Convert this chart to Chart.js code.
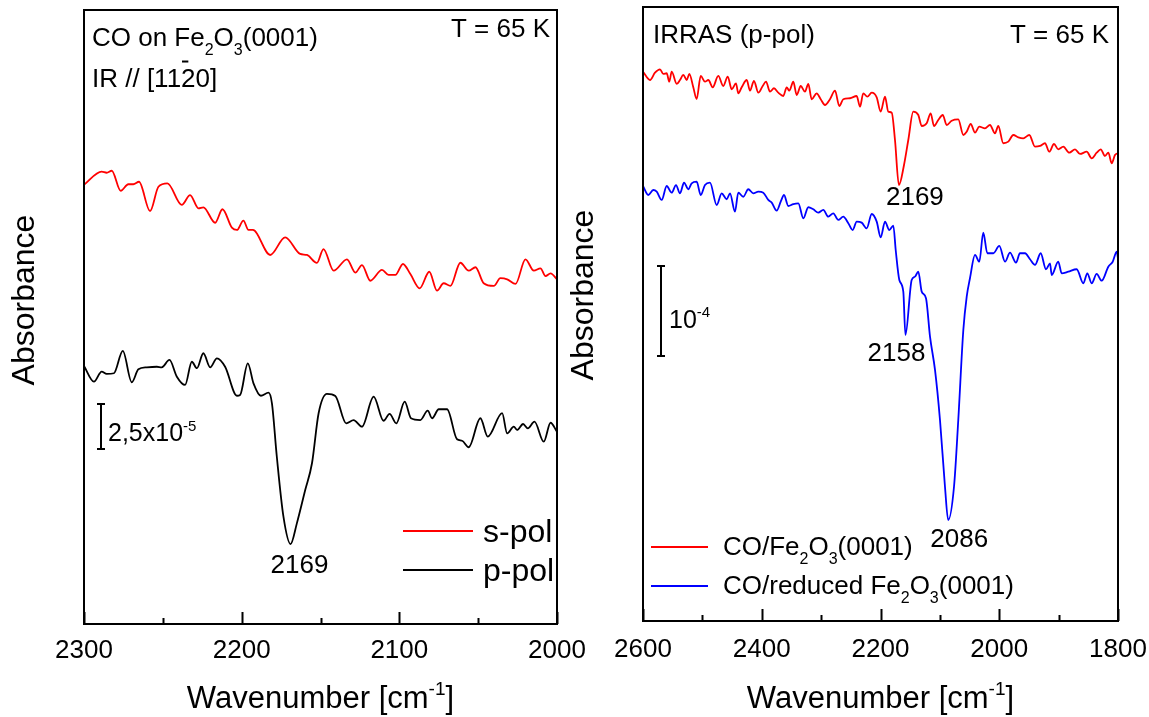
<!DOCTYPE html>
<html>
<head>
<meta charset="utf-8">
<script src="https://cdn.jsdelivr.net/npm/chart.js@4.4.1/dist/chart.umd.min.js"></script>
<style>
  html, body { margin: 0; padding: 0; background: #fff; }
  #wrap { position: relative; width: 1149px; height: 717px; }
  #wrap canvas { position: absolute; left: 0; top: 0; }
</style>
</head>
<body>
<div id="wrap">
  <canvas id="leftPanel" width="1149" height="717"></canvas>
  <canvas id="rightPanel" width="1149" height="717"></canvas>
</div>
<script>
const FONT = '"Liberation Sans", Arial, Helvetica, sans-serif';

// ---- Left panel: CO on Fe2O3(0001), T = 65 K ----
// points are [wavenumber (cm^-1), absorbance in units of 1e-5, offset for display]
const leftSPol = [
  [2300.0, 24.40], [2288.8, 25.13], [2285.6, 25.07], [2282.4, 25.18], [2276.7, 24.06],
  [2271.9, 24.43], [2268.7, 24.43], [2265.1, 24.57], [2258.1, 22.94], [2252.8, 24.29],
  [2247.1, 24.48], [2238.0, 23.28], [2232.7, 23.83], [2227.4, 23.09], [2224.3, 23.15],
  [2216.8, 22.29], [2212.2, 23.04], [2206.2, 22.02], [2203.0, 21.89], [2198.9, 22.41],
  [2195.7, 21.89], [2192.9, 21.89], [2181.9, 20.50], [2172.4, 21.48], [2162.9, 20.56],
  [2158.6, 20.50], [2152.3, 20.06], [2148.1, 20.83], [2141.7, 19.63], [2133.2, 20.26],
  [2127.9, 19.52], [2123.7, 19.94], [2118.4, 19.07], [2111.0, 19.67], [2106.8, 19.39],
  [2102.5, 19.39], [2097.7, 20.00], [2093.0, 19.44], [2087.1, 18.65], [2081.0, 19.57],
  [2076.1, 18.52], [2071.9, 18.93], [2067.6, 18.78], [2061.3, 20.07], [2056.0, 19.63],
  [2051.7, 19.82], [2046.5, 18.93], [2040.1, 18.78], [2035.9, 19.21], [2031.6, 19.15],
  [2026.3, 18.89], [2020.0, 20.26], [2014.7, 19.63], [2010.5, 19.76], [2007.3, 19.33],
  [2004.1, 19.48], [2000.0, 19.15]
];
const leftPPol = [
  [2300.0, 14.33], [2293.7, 13.46], [2288.8, 14.02], [2285.6, 13.89], [2281.0, 13.93],
  [2275.4, 15.17], [2269.7, 13.43], [2265.5, 14.15], [2260.2, 14.26], [2253.8, 14.29],
  [2250.7, 14.26], [2245.8, 14.67], [2241.1, 13.74], [2235.9, 13.28], [2231.6, 14.57],
  [2228.4, 14.21], [2224.3, 15.04], [2220.0, 14.26], [2215.7, 14.76], [2210.5, 14.29],
  [2203.0, 12.68], [2201.0, 12.72], [2196.1, 14.48], [2192.5, 13.37], [2187.8, 12.68],
  [2183.0, 12.85], [2180.8, 12.26], [2177.7, 9.29], [2173.5, 5.96], [2169.0, 4.44],
  [2165.0, 5.59], [2159.7, 7.44], [2155.4, 8.93], [2151.2, 11.71], [2145.9, 12.78],
  [2140.6, 12.67], [2133.7, 11.15], [2129.0, 11.33], [2123.7, 10.96], [2116.3, 12.63],
  [2110.0, 11.29], [2106.2, 11.67], [2101.9, 11.15], [2096.6, 12.35], [2092.6, 11.43],
  [2086.7, 11.33], [2082.0, 11.85], [2079.2, 11.43], [2075.0, 11.93], [2069.7, 11.93],
  [2063.4, 10.26], [2060.2, 10.18], [2056.0, 9.82], [2048.6, 11.43], [2043.9, 10.41],
  [2034.8, 11.71], [2031.6, 10.59], [2027.4, 10.96], [2025.3, 10.78], [2021.5, 11.11],
  [2018.5, 10.87], [2014.3, 11.24], [2008.4, 10.13], [2004.1, 11.18], [2000.0, 10.68]
];
const leftTicks = [2300, 2200, 2100, 2000];
const leftMinorTicks = [2250, 2150, 2050];
const leftPeak = 2169;

// ---- Right panel: IRRAS (p-pol), T = 65 K ----
const rightFe2O3 = [
  [2600.0, 61.03], [2588.2, 60.11], [2579.8, 60.92], [2571.4, 61.30], [2565.8, 60.78],
  [2560.1, 60.86], [2555.7, 59.92], [2551.7, 61.03], [2543.2, 59.67], [2537.7, 60.11],
  [2532.1, 60.67], [2526.4, 60.11], [2522.0, 60.78], [2515.3, 59.30], [2509.6, 58.00],
  [2502.8, 60.56], [2495.6, 59.92], [2490.0, 60.11], [2482.6, 59.30], [2473.2, 60.56],
  [2464.8, 59.44], [2457.3, 60.48], [2450.6, 59.08], [2443.4, 59.74], [2439.5, 58.63],
  [2433.8, 59.30], [2425.3, 60.11], [2419.8, 58.92], [2413.1, 60.00], [2405.8, 58.70],
  [2398.4, 59.44], [2392.8, 59.92], [2386.1, 58.81], [2379.4, 59.19], [2372.1, 58.70],
  [2363.7, 58.33], [2358.0, 59.30], [2353.6, 58.92], [2346.9, 59.92], [2341.1, 58.44],
  [2334.4, 59.44], [2327.2, 58.81], [2321.6, 59.67], [2315.9, 57.97], [2307.5, 58.63],
  [2300.7, 57.97], [2293.5, 57.33], [2285.1, 57.97], [2276.6, 58.92], [2269.4, 57.22],
  [2262.7, 57.97], [2251.4, 58.08], [2240.1, 58.33], [2234.5, 57.14], [2229.0, 58.63],
  [2222.2, 58.26], [2214.8, 58.70], [2206.4, 58.19], [2199.7, 56.59], [2192.4, 58.26],
  [2186.9, 56.59], [2181.1, 56.48], [2175.6, 53.44], [2169.0, 48.44], [2160.4, 50.67],
  [2153.2, 53.44], [2144.8, 56.59], [2136.3, 56.22], [2130.6, 55.00], [2122.2, 55.30],
  [2115.5, 56.41], [2109.9, 55.00], [2102.7, 55.67], [2095.2, 56.22], [2088.5, 55.11],
  [2080.1, 55.59], [2069.0, 55.74], [2060.5, 54.00], [2054.8, 54.37], [2048.1, 55.22],
  [2040.8, 54.26], [2033.6, 54.92], [2024.0, 54.74], [2015.6, 55.11], [2007.2, 54.19],
  [2001.6, 55.00], [1993.2, 53.08], [1984.8, 53.26], [1976.3, 54.00], [1967.9, 53.74],
  [1959.5, 53.63], [1949.4, 54.00], [1939.8, 52.70], [1931.4, 52.78], [1923.0, 53.08],
  [1915.7, 52.14], [1907.8, 53.00], [1900.6, 52.41], [1892.2, 52.70], [1882.0, 52.03],
  [1872.4, 52.41], [1864.0, 51.89], [1852.7, 52.14], [1844.3, 51.41], [1835.9, 52.03],
  [1829.1, 52.41], [1821.9, 51.67], [1816.3, 52.03], [1810.6, 50.86], [1805.1, 51.78],
  [1800.0, 51.97]
];
const rightReduced = [
  [2600.0, 48.33], [2591.1, 47.33], [2582.7, 47.89], [2576.9, 47.70], [2568.5, 46.78],
  [2560.1, 48.33], [2551.7, 47.59], [2544.4, 48.44], [2537.7, 47.52], [2530.9, 48.70],
  [2523.7, 47.97], [2518.0, 48.63], [2509.6, 48.81], [2502.8, 47.33], [2495.6, 48.44],
  [2487.2, 48.70], [2475.9, 46.22], [2467.5, 47.52], [2459.0, 46.86], [2453.5, 47.52],
  [2445.1, 45.48], [2439.5, 47.59], [2431.1, 47.14], [2422.7, 47.97], [2414.2, 47.52],
  [2405.8, 47.70], [2397.4, 47.59], [2389.0, 46.78], [2383.2, 46.48], [2374.8, 45.59],
  [2368.1, 46.59], [2362.5, 47.33], [2355.3, 46.11], [2346.9, 46.33], [2338.4, 46.41],
  [2330.0, 44.74], [2321.6, 45.97], [2313.2, 45.74], [2304.8, 45.37], [2296.3, 45.67],
  [2287.9, 44.92], [2279.5, 45.30], [2271.1, 44.56], [2262.7, 44.92], [2254.2, 44.19],
  [2246.8, 43.44], [2240.1, 44.37], [2231.7, 44.26], [2223.2, 43.63], [2214.8, 45.22],
  [2206.4, 44.37], [2199.7, 42.63], [2192.4, 44.37], [2185.2, 43.44], [2178.4, 43.94],
  [2174.4, 41.22], [2168.3, 37.89], [2161.6, 36.59], [2158.0, 31.78], [2147.5, 37.89],
  [2141.9, 38.26], [2136.3, 38.81], [2130.6, 36.59], [2123.4, 35.86], [2116.6, 31.59],
  [2108.2, 27.89], [2099.8, 22.33], [2091.4, 14.92], [2086.0, 11.22], [2076.2, 14.92],
  [2069.0, 22.33], [2060.5, 32.33], [2054.8, 36.03], [2049.3, 38.08], [2040.8, 40.67],
  [2033.6, 39.92], [2026.9, 43.14], [2020.1, 40.86], [2010.0, 40.86], [1999.9, 41.67],
  [1990.3, 39.92], [1981.9, 40.92], [1971.8, 39.81], [1965.1, 40.86], [1956.6, 40.86],
  [1948.2, 40.19], [1939.8, 39.56], [1930.2, 40.86], [1921.3, 39.08], [1914.5, 39.74],
  [1911.7, 38.44], [1900.6, 39.92], [1894.8, 38.63], [1883.7, 38.81], [1869.6, 39.08],
  [1858.4, 37.52], [1851.7, 38.63], [1844.3, 37.52], [1835.9, 38.56], [1827.5, 37.81],
  [1816.3, 39.37], [1808.9, 39.92], [1802.2, 41.03], [1800.0, 40.30]
];
const rightTicks = [2600, 2400, 2200, 2000, 1800];
const rightMinorTicks = [2500, 2300, 2100, 1900];
const rightPeaksFe2O3 = [2169];
const rightPeaksReduced = [2158, 2086];

// ---- text helpers ----
// segments: [text, kind], kind is '' (normal), 'sub', 'sup' or 'bar' (overlined)
function segFont(kind, size) {
  const s = (kind === 'sub' || kind === 'sup') ? Math.round(size * 0.6) : size;
  return s + 'px ' + FONT;
}
function richWidth(ctx, segs, size) {
  let w = 0;
  for (const [t, k] of segs) { ctx.font = segFont(k, size); w += ctx.measureText(t).width; }
  return w;
}
function drawRich(ctx, segs, x, y, size, align) {
  const w = richWidth(ctx, segs, size);
  let cx = align === 'center' ? x - w / 2 : align === 'right' ? x - w : x;
  ctx.textAlign = 'left';
  ctx.textBaseline = 'alphabetic';
  for (const [t, k] of segs) {
    ctx.font = segFont(k, size);
    const dy = k === 'sub' ? size * 0.33 : k === 'sup' ? -size * 0.42 : 0;
    ctx.fillText(t, cx, y + dy);
    const tw = ctx.measureText(t).width;
    if (k === 'bar') {
      ctx.save();
      ctx.lineWidth = 2;
      ctx.beginPath();
      ctx.moveTo(cx + tw * 0.06, y - size * 0.98);
      ctx.lineTo(cx + tw * 0.5, y - size * 0.98);
      ctx.stroke();
      ctx.restore();
    }
    cx += tw;
  }
}

// frame, inward ticks, labels, legend and scale bar for one panel
const panelDecor = {
  id: 'panelDecor',
  afterDraw(chart, args, opts) {
    const ctx = chart.ctx;
    const a = chart.chartArea;
    const xs = chart.scales.x, ys = chart.scales.y;
    ctx.save();
    ctx.fillStyle = '#000';
    ctx.strokeStyle = '#000';

    // frame
    ctx.lineWidth = 2;
    ctx.strokeRect(a.left, a.top, a.right - a.left, a.bottom - a.top);

    // ticks pointing into the plot
    ctx.beginPath();
    for (const v of opts.major) {
      const px = Math.round(xs.getPixelForValue(v)) + 0.5;
      ctx.moveTo(px, a.bottom); ctx.lineTo(px, a.bottom - 12);
    }
    for (const v of opts.minor) {
      const px = Math.round(xs.getPixelForValue(v)) + 0.5;
      ctx.moveTo(px, a.bottom); ctx.lineTo(px, a.bottom - 6);
    }
    ctx.stroke();

    // corner texts
    for (const t of opts.texts) drawRich(ctx, t.segs, t.x, t.y, t.size, t.align);

    // x-axis title
    drawRich(ctx, [['Wavenumber [cm', ''], ['-1', 'sup'], [']', '']],
             (a.left + a.right) / 2, 708, 31, 'center');

    // y-axis title
    ctx.save();
    ctx.translate(opts.yTitleX, opts.yTitleY);
    ctx.rotate(-Math.PI / 2);
    ctx.font = '32px ' + FONT;
    ctx.textAlign = 'center';
    ctx.textBaseline = 'middle';
    ctx.fillText('Absorbance', 0, 0);
    ctx.restore();

    // peak positions, placed from the data minimum of the stated wavenumber
    for (const p of opts.peaks) {
      const pt = p.series.find(d => d[0] === p.wn);
      const px = xs.getPixelForValue(pt[0]);
      const py = ys.getPixelForValue(pt[1]);
      drawRich(ctx, [[String(p.wn), '']], px + p.dx, py + p.dy, 26, 'center');
    }

    // scale bar
    const sb = opts.scaleBar;
    const len = ys.getPixelForValue(0) - ys.getPixelForValue(sb.size);
    ctx.lineWidth = 2;
    ctx.beginPath();
    ctx.moveTo(sb.x, sb.bottom); ctx.lineTo(sb.x, sb.bottom - len);
    ctx.moveTo(sb.x - 4, sb.bottom); ctx.lineTo(sb.x + 4, sb.bottom);
    ctx.moveTo(sb.x - 4, sb.bottom - len); ctx.lineTo(sb.x + 4, sb.bottom - len);
    ctx.stroke();
    drawRich(ctx, sb.label, sb.x + sb.labelDx, sb.bottom - len / 2 + sb.labelDy, 25, 'left');

    // legend
    const lg = opts.legend;
    lg.items.forEach((it, i) => {
      const y = lg.y + i * lg.gap;
      ctx.strokeStyle = it.color;
      ctx.lineWidth = 1.8;
      ctx.beginPath();
      ctx.moveTo(lg.x0, y); ctx.lineTo(lg.x1, y);
      ctx.stroke();
      drawRich(ctx, it.segs, lg.textX, y + lg.textDy, lg.size, 'left');
    });
    ctx.restore();
  }
};

function xAxis(min, max, ticks, height, pad) {
  return {
    type: 'linear', min, max, reverse: true,
    afterBuildTicks: s => { s.ticks = ticks.map(v => ({ value: v })); },
    afterFit: s => { s.height = height; s.paddingLeft = 0; s.paddingRight = 0; },
    grid: { display: false, drawTicks: false },
    border: { display: false },
    ticks: { color: '#000', padding: pad, maxRotation: 0, autoSkip: false,
             font: { family: FONT, size: 26 }, callback: v => String(v) }
  };
}
function lineSet(series, color) {
  return {
    data: series.map(([x, y]) => ({ x, y })),
    borderColor: color, borderWidth: 1.8, pointRadius: 0,
    cubicInterpolationMode: 'monotone', fill: false
  };
}

new Chart(document.getElementById('leftPanel'), {
  type: 'line',
  data: { datasets: [lineSet(leftSPol, '#ff0000'), lineSet(leftPPol, '#000000')] },
  plugins: [panelDecor],
  options: {
    responsive: false, animation: false, devicePixelRatio: 1,
    layout: { padding: { left: 84, right: 592, top: 10, bottom: 0 } },
    scales: {
      x: xAxis(2000, 2300, leftTicks, 93, 11),
      y: { type: 'linear', display: false, min: 0, max: 34.11 }
    },
    plugins: {
      legend: { display: false }, tooltip: { enabled: false },
      panelDecor: {
        major: leftTicks, minor: leftMinorTicks,
        yTitleX: 25, yTitleY: 300,
        texts: [
          { segs: [['CO on Fe', ''], ['2', 'sub'], ['O', ''], ['3', 'sub'], ['(0001)', '']], x: 92, y: 46, size: 26, align: 'left' },
          { segs: [['IR // [11', ''], ['2', 'bar'], ['0]', '']], x: 92, y: 87, size: 26, align: 'left' },
          { segs: [['T = 65 K', '']], x: 550, y: 37, size: 26, align: 'right' }
        ],
        peaks: [{ series: leftPPol, wn: leftPeak, dx: 9, dy: 29 }],
        scaleBar: { x: 101, bottom: 449, size: 2.5, labelDx: 7, labelDy: 15,
                    label: [['2,5x10', ''], ['-5', 'sup']] },
        legend: { x0: 403, x1: 473, y: 531, gap: 39, textX: 483, textDy: 11, size: 32,
                  items: [{ color: '#ff0000', segs: [['s-pol', '']] },
                          { color: '#000000', segs: [['p-pol', '']] }] }
      }
    }
  }
});

new Chart(document.getElementById('rightPanel'), {
  type: 'line',
  data: { datasets: [lineSet(rightFe2O3, '#ff0000'), lineSet(rightReduced, '#0000ff')] },
  plugins: [panelDecor],
  options: {
    responsive: false, animation: false, devicePixelRatio: 1,
    layout: { padding: { left: 643, right: 31, top: 7, bottom: 0 } },
    scales: {
      x: xAxis(1800, 2600, rightTicks, 96, 13),
      y: { type: 'linear', display: false, min: 0, max: 68.22 }
    },
    plugins: {
      legend: { display: false }, tooltip: { enabled: false },
      panelDecor: {
        major: rightTicks, minor: rightMinorTicks,
        yTitleX: 584, yTitleY: 295,
        texts: [
          { segs: [['IRRAS (p-pol)', '']], x: 653, y: 43, size: 26, align: 'left' },
          { segs: [['T = 65 K', '']], x: 1109, y: 43, size: 26, align: 'right' }
        ],
        peaks: [
          { series: rightFe2O3, wn: rightPeaksFe2O3[0], dx: 16, dy: 20 },
          { series: rightReduced, wn: rightPeaksReduced[0], dx: -9, dy: 26 },
          { series: rightReduced, wn: rightPeaksReduced[1], dx: 11, dy: 27 }
        ],
        scaleBar: { x: 661, bottom: 356, size: 10, labelDx: 8, labelDy: 17,
                    label: [['10', ''], ['-4', 'sup']] },
        legend: { x0: 651, x1: 708, y: 547, gap: 39, textX: 723, textDy: 8, size: 26,
                  items: [{ color: '#ff0000', segs: [['CO/Fe', ''], ['2', 'sub'], ['O', ''], ['3', 'sub'], ['(0001)', '']] },
                          { color: '#0000ff', segs: [['CO/reduced Fe', ''], ['2', 'sub'], ['O', ''], ['3', 'sub'], ['(0001)', '']] }] }
      }
    }
  }
});
</script>
</body>
</html>
